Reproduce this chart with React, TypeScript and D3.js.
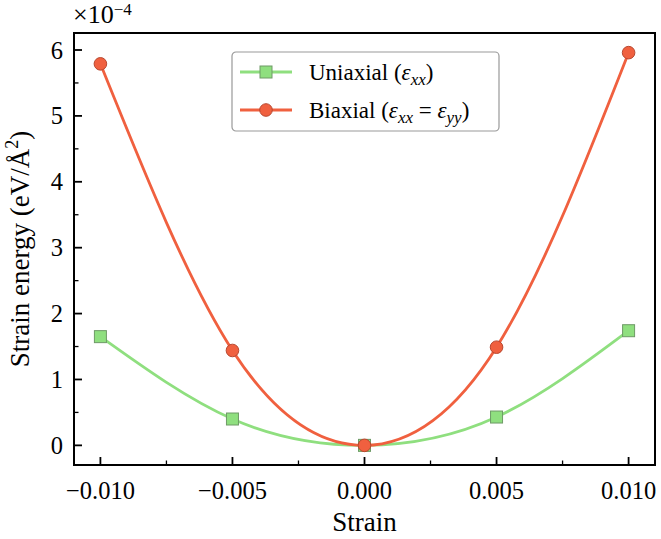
import { useMemo } from "react";
import * as d3 from "d3";

const strains = [-0.01, -0.005, 0, 0.005, 0.01];
// energies in units of 1e-4 eV/Å²
const uniaxial = [1.65, 0.4, 0.0, 0.43, 1.74];
const biaxial = [5.79, 1.44, 0.0, 1.49, 5.96];
const xTicks = [-0.01, -0.005, 0, 0.005, 0.01];
const xMinor = [-0.0075, -0.0025, 0.0025, 0.0075];
const yTicks = [0, 1, 2, 3, 4, 5, 6];
const yMinor = [0.5, 1.5, 2.5, 3.5, 4.5, 5.5];

const WIDTH = 661;
const HEIGHT = 539;
const MARGIN = { top: 33, right: 6, bottom: 74, left: 74 };
const FONT = "'Liberation Serif', 'DejaVu Serif', serif";
const GREEN = "#8fdf7f";
const RED = "#f0603f";

export default function App() {
  const boundsWidth = WIDTH - MARGIN.left - MARGIN.right;
  const boundsHeight = HEIGHT - MARGIN.top - MARGIN.bottom;

  const xScale = useMemo(
    () => d3.scaleLinear().domain([-0.011, 0.011]).range([0, boundsWidth]),
    [boundsWidth]
  );
  const yScale = useMemo(
    () => d3.scaleLinear().domain([-0.298, 6.258]).range([boundsHeight, 0]),
    [boundsHeight]
  );

  const line = d3
    .line<number>()
    .x((_, i) => xScale(strains[i]))
    .y((d) => yScale(d))
    .curve(d3.curveNatural);

  const fmt = (v: number) => d3.format(".3f")(v).replace("-", "\u2212");

  return (
    <svg
      width={WIDTH}
      height={HEIGHT}
      style={{ position: "absolute", left: 0, top: 0, background: "white" }}
      fontFamily={FONT}
    >
      <g transform={`translate(${MARGIN.left},${MARGIN.top})`}>
        <path d={line(uniaxial) ?? ""} fill="none" stroke={GREEN} strokeWidth={2.8} />
        <path d={line(biaxial) ?? ""} fill="none" stroke={RED} strokeWidth={2.8} />
        {uniaxial.map((v, i) => (
          <rect
            key={"u" + i}
            x={xScale(strains[i]) - 6}
            y={yScale(v) - 6}
            width={12}
            height={12}
            fill={GREEN}
            stroke="#6e9a66"
            strokeWidth={1}
          />
        ))}
        {biaxial.map((v, i) => (
          <circle
            key={"b" + i}
            cx={xScale(strains[i])}
            cy={yScale(v)}
            r={6.3}
            fill={RED}
            stroke="#b84830"
            strokeWidth={1}
          />
        ))}

        {/* ticks, pointing inward */}
        {xTicks.map((t) => (
          <g key={"xt" + t}>
            <line x1={xScale(t)} x2={xScale(t)} y1={boundsHeight} y2={boundsHeight - 8} stroke="black" strokeWidth={1.8} />
            <text x={xScale(t)} y={boundsHeight + 34} textAnchor="middle" fontSize={24.5}>
              {fmt(t)}
            </text>
          </g>
        ))}
        {xMinor.map((t) => (
          <line key={"xm" + t} x1={xScale(t)} x2={xScale(t)} y1={boundsHeight} y2={boundsHeight - 4.5} stroke="black" strokeWidth={1.3} />
        ))}
        {yTicks.map((t) => (
          <g key={"yt" + t}>
            <line x1={0} x2={8} y1={yScale(t)} y2={yScale(t)} stroke="black" strokeWidth={1.8} />
            <text x={-11} y={yScale(t)} dy="0.35em" textAnchor="end" fontSize={24.5}>
              {t}
            </text>
          </g>
        ))}
        {yMinor.map((t) => (
          <line key={"ym" + t} x1={0} x2={4.5} y1={yScale(t)} y2={yScale(t)} stroke="black" strokeWidth={1.3} />
        ))}

        <rect x={0} y={0} width={boundsWidth} height={boundsHeight} fill="none" stroke="black" strokeWidth={2} />

        <text x={-1} y={-10} fontSize={26}>
          {"\u00d710"}
          <tspan fontSize={17} dy={-8}>{"\u22124"}</tspan>
        </text>

        {/* legend */}
        <g transform="translate(158,19)">
          <rect x={0} y={0} width={267} height={79} rx={4} fill="white" stroke="#999" strokeWidth={1.2} />
          <line x1={8} x2={60} y1={20} y2={20} stroke={GREEN} strokeWidth={2.8} />
          <rect x={28} y={14} width={12} height={12} fill={GREEN} stroke="#6e9a66" strokeWidth={1} />
          <text x={77} y={20} dy="0.35em" fontSize={23}>
            Uniaxial (<tspan fontStyle="italic">ε</tspan>
            <tspan fontStyle="italic" fontSize={17} dy={5}>xx</tspan>
            <tspan dy={-5}>)</tspan>
          </text>
          <line x1={8} x2={60} y1={58} y2={58} stroke={RED} strokeWidth={2.8} />
          <circle cx={34} cy={58} r={6.3} fill={RED} stroke="#b84830" strokeWidth={1} />
          <text x={77} y={58} dy="0.35em" fontSize={23}>
            Biaxial (<tspan fontStyle="italic">ε</tspan>
            <tspan fontStyle="italic" fontSize={17} dy={5}>xx</tspan>
            <tspan dy={-5}> = </tspan>
            <tspan fontStyle="italic">ε</tspan>
            <tspan fontStyle="italic" fontSize={17} dy={5}>yy</tspan>
            <tspan dy={-5}>)</tspan>
          </text>
        </g>

        <text x={boundsWidth / 2} y={boundsHeight + 66} textAnchor="middle" fontSize={27}>
          Strain
        </text>
        <text
          transform={`translate(${-45},${boundsHeight / 2}) rotate(-90)`}
          textAnchor="middle"
          fontSize={27}
        >
          Strain energy (eV/Å<tspan fontSize={18} dy={-11}>2</tspan>
          <tspan dy={11}>)</tspan>
        </text>
      </g>
    </svg>
  );
}
